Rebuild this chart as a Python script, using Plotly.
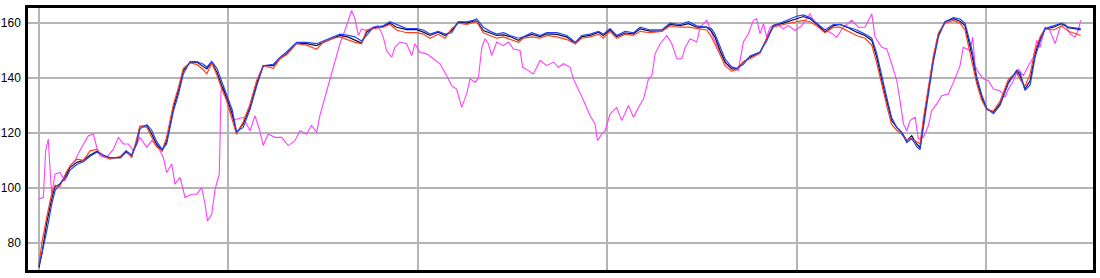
import plotly.graph_objects as go

# time (minutes) for the three heart-rate traces
t_hr = [0, 0.15, 0.4, 0.67, 0.85, 1.1, 1.46, 1.64, 2.0, 2.34, 2.7, 3.05, 3.4, 3.75, 4.3, 4.6, 4.9, 5.16, 5.33, 5.7,
        5.95, 6.2, 6.5, 6.74, 7.1, 7.36, 7.62, 7.98, 8.33, 8.68, 8.86, 9.12, 9.4, 9.65, 9.9, 10.2, 10.43, 10.78, 11.14, 11.49,
        11.84, 12.37, 12.72, 13.07, 13.6, 14.13, 14.66, 15.01, 15.54, 15.89, 16.33, 16.68, 17.03, 17.3, 17.65, 18.18, 18.53, 18.88, 19.41, 19.94,
        20.29, 20.64, 21.08, 21.44, 21.79, 22.14, 22.58, 22.93, 23.11, 23.46, 23.82, 24.17, 24.52, 24.87, 25.31, 25.58, 26.02, 26.46, 26.81, 27.34,
        27.87, 28.31, 28.66, 29.1, 29.54, 29.8, 30.15, 30.5, 30.95, 31.39, 31.74, 32.27, 32.88, 33.32, 33.85, 34.29, 34.73, 35.26, 35.5, 35.69,
        35.96, 36.22, 36.57, 36.84, 37.19, 37.54, 38.07, 38.42, 38.77, 39.3, 39.65, 40.0, 40.36, 40.71, 41.06, 41.5, 41.94, 42.29, 42.73, 43.17,
        43.61, 43.97, 44.23, 44.5, 44.76, 45.02, 45.29, 45.55, 45.82, 46.08, 46.34, 46.52, 46.7, 46.96, 47.22, 47.49, 47.84, 48.28, 48.63, 48.89,
        49.07, 49.25, 49.51, 49.77, 50.04, 50.39, 50.74, 51.18, 51.62, 51.8, 52.06, 52.33, 52.59, 52.86, 53.12, 53.56, 54.0, 54.35, 55.0]

black_hr = [71, 76, 87, 96, 100.5, 101.3, 105, 107.4, 109.3, 110, 112, 113.3, 111.7, 110.9, 111, 113, 111.7, 117, 122.3, 122.7,
            119.6, 116, 113.5, 117, 129.3, 135.4, 142.7, 145.8, 145.8, 144, 143.3, 145.8, 142, 137.2, 133, 127, 120, 123.3, 129.3, 137.9,
            144.5, 144.5, 147, 148.8, 152.7, 152.5, 151.8, 153, 154.6, 155.5, 154.9, 153.9, 152.7, 156.7, 158.3, 158.8, 160, 158.5, 157.6, 157.6,
            156.7, 155.5, 156.7, 155.5, 157.3, 160.4, 160, 160.7, 160.7, 157.3, 156.4, 155.5, 155.7, 155.1, 153.7, 154.9, 155.9, 155.1, 156.1, 155.9,
            154.9, 152.5, 155.1, 155.5, 156.7, 155.5, 157.6, 155.1, 156.4, 156.1, 157.9, 157.1, 157.1, 159.5, 159.1, 159.8, 158.5, 158.5, 157, 154.9,
            150, 145.8, 143.3, 143.3, 145.8, 147.6, 149.4, 154.3, 159.1, 160, 160.7, 161.6, 162.4, 161.6, 159.8, 156.7, 159.1, 159.5, 158.3, 156.7,
            155.5, 153.7, 147.6, 139, 131.8, 124.5, 122, 120.2, 117.2, 119, 116, 114.7, 124, 136, 147, 156, 160.5, 161.6, 160.7, 159.1,
            153.7, 148.8, 139, 133, 128.7, 127.5, 130.6, 138.5, 142.7, 140.9, 136, 139, 148.8, 154.3, 157.9, 158.5, 159.8, 158.3, 157.6]

red_hr = [72, 80, 89, 98, 101, 100.5, 106, 108, 110.5, 110, 113.5, 114, 111.5, 110.5, 111.5, 113.5, 111, 118.5, 122.5, 122,
          118.5, 115, 113.5, 118.5, 130.5, 136.5, 143.5, 145.5, 145, 143, 141.5, 145.5, 141, 136, 132, 125, 119.5, 124, 130.5, 139,
          144.5, 143.5, 147, 148.5, 152.5, 152, 150.5, 153, 154.5, 155, 154, 153, 152.5, 157.5, 158, 158.5, 159.5, 157.5, 156.5, 156.5,
          156, 154.5, 156, 154.5, 158, 160, 159.5, 160, 160.5, 156.5, 155.5, 154.5, 155, 154, 153, 154.5, 155, 154.5, 155.5, 155,
          154, 152.5, 154.5, 155, 156, 154.5, 157, 154.5, 156, 155.5, 157, 156.5, 157, 159, 158.5, 158.5, 158, 157.5, 155, 152.5,
          148.5, 144.5, 142.5, 143, 146, 147, 149, 154.5, 158.5, 159.5, 160, 160.5, 161, 160.5, 159, 156.5, 158.5, 158.5, 157, 155.5,
          154.5, 152, 145.5, 137, 130, 123, 121, 119.5, 117.5, 118, 117, 116, 125.5, 137.5, 148, 156.5, 160, 161, 160, 157.5,
          152, 147, 138, 132, 128.5, 128, 131.5, 139.5, 142, 139.5, 137, 141.5, 150, 155, 158, 157.5, 159, 157, 155.5]

blue_hr = [72, 76, 84, 94, 99, 101.5, 104, 106.5, 108.5, 109.5, 111.5, 113, 112, 111, 111, 113.5, 112, 116, 121.5, 123,
           121, 117, 114, 116, 128, 134, 141.5, 146, 146, 145, 144, 146, 143.5, 138.5, 134, 128.5, 120.5, 122, 128.5, 137,
           144.5, 145, 147.5, 149.5, 153, 153, 152.5, 153.5, 155, 156, 155.5, 155, 153.5, 155.5, 158.5, 159, 160.5, 159.5, 158, 158,
           157.5, 156, 157, 156, 156.5, 160.5, 160.5, 161, 161.5, 158.5, 157, 156, 156.5, 155.5, 154.5, 155, 156.5, 155.5, 156.5, 156.5,
           155.5, 153, 155.5, 156, 157, 156, 158, 155.5, 157, 156.5, 158.5, 157.5, 157.5, 160, 159.5, 160.5, 159, 158.5, 158, 156,
           151.5, 147, 144, 143.5, 145, 148, 149.5, 153.5, 159, 160.5, 161.5, 162.5, 163, 162, 160, 157.5, 159.5, 159.5, 158.5, 157.5,
           156, 154.5, 149, 140.5, 133, 125.5, 122, 120, 116.5, 118, 115, 114, 122, 134.5, 146, 155, 160.5, 162, 161.5, 160,
           155.5, 150.5, 140.5, 134, 129, 127, 130, 138, 142.5, 142, 135.5, 137.5, 147.5, 153.5, 158, 159, 160, 158.5, 158]

# time (minutes) and values for the magenta trace
t_mag = [0, 0.23, 0.35, 0.49, 0.58, 0.67, 0.85, 1.11, 1.37, 1.64, 1.9, 2.25, 2.61, 2.87, 3.05, 3.22, 3.57, 3.93, 4.19, 4.45,
         4.72, 4.98, 5.33, 5.69, 5.95, 6.3, 6.57, 6.74, 7.01, 7.18, 7.45, 7.71, 8.06, 8.33, 8.59, 8.77, 8.89, 9.12, 9.3, 9.52,
         9.61, 9.74, 10.0, 10.26, 10.43, 10.78, 11.14, 11.4, 11.66, 11.84, 12.1, 12.46, 12.81, 13.16, 13.51, 13.78, 14.13, 14.39, 14.66, 14.83,
         15.1, 15.36, 15.63, 15.89, 16.15, 16.33, 16.51, 16.68, 16.86, 17.03, 17.3, 17.65, 17.91, 18.18, 18.35, 18.62, 18.79, 19.06, 19.41, 19.68,
         19.85, 20.11, 20.47, 20.82, 21.17, 21.52, 21.79, 22.05, 22.32, 22.58, 22.76, 23.02, 23.2, 23.38, 23.55, 23.73, 23.9, 24.17, 24.52, 24.78,
         25.05, 25.4, 25.54, 25.84, 26.1, 26.46, 26.81, 27.16, 27.43, 27.69, 28.04, 28.22, 28.48, 28.75, 29.1, 29.36, 29.49, 29.71, 29.89, 30.15,
         30.5, 30.77, 31.12, 31.39, 31.65, 31.92, 32.18, 32.36, 32.53, 32.8, 33.15, 33.41, 33.68, 33.94, 34.12, 34.38, 34.73, 34.91, 35.26, 35.6,
         35.96, 36.31, 36.66, 36.92, 37.19, 37.45, 37.72, 37.89, 38.07, 38.25, 38.42, 38.6, 38.95, 39.3, 39.57, 39.92, 40.27, 40.71, 40.97, 41.41,
         41.77, 42.12, 42.47, 42.91, 43.26, 43.61, 43.97, 44.14, 44.5, 44.76, 45.02, 45.29, 45.46, 45.64, 45.82, 45.99, 46.26, 46.43, 46.7, 46.96,
         47.13, 47.4, 47.66, 48.01, 48.36, 48.63, 48.8, 48.98, 49.16, 49.3, 49.42, 49.6, 49.86, 50.13, 50.39, 50.74, 51.01, 51.18, 51.45, 51.71,
         51.97, 52.24, 52.5, 52.68, 52.85, 53.12, 53.38, 53.65, 53.91, 54.17, 54.44, 54.7, 54.88, 55.0]

magenta = [96, 96.5, 113.5, 117.8, 107.4, 97.7, 105, 105.6, 102.6, 108, 110, 114.8, 119, 119.6, 114.8, 111.7, 111, 114.1, 118.4, 116,
           116, 113.5, 118.4, 114.8, 117.2, 114.8, 111, 105.6, 108.7, 101.4, 103.8, 96.5, 97.7, 97.7, 100.1, 94, 88, 90.4, 99.6, 105,
           135.4, 136.6, 129.3, 125, 125, 125.7, 120.8, 126.3, 120.8, 115.4, 119.6, 118.4, 118.4, 115.4, 117.2, 120.8, 119.6, 122.7, 120.2, 126.3,
           133, 139.7, 145.8, 152.5, 157.3, 161, 164.6, 161.6, 155.5, 157.9, 157.3, 158.5, 159.1, 154.9, 150, 147.6, 151.2, 153.1, 152.5, 148.2,
           152.5, 149.4, 148.8, 147, 145.2, 140.9, 137.2, 136, 129.3, 134.2, 139.7, 138.5, 140, 151.2, 154.3, 152.5, 148.2, 153.1, 151.8, 153.1,
           150.6, 150, 143.9, 142.7, 141.5, 146.4, 144.5, 145.8, 143.9, 145.2, 143.9, 139.7, 136, 131.8, 126.3, 123.3, 117.2, 119.6, 120.8, 126.9,
           129.3, 124.5, 130, 125.7, 129.3, 132.4, 139.7, 140.9, 148.8, 152.5, 155.5, 152.5, 147, 147, 151.2, 154.3, 153.1, 158.5, 161, 154.9,
           149.4, 145.2, 143.9, 142.7, 153.1, 156.1, 161, 161.6, 156.1, 159.8, 154.9, 158.5, 159.8, 157.9, 159.1, 157.3, 159.1, 163.4, 159.8, 157.3,
           156.7, 154.9, 158.5, 161, 158.5, 158.5, 163.4, 154.9, 151.2, 150.6, 145.2, 139, 131.8, 123.3, 120.8, 124.5, 125.7, 117.8, 118.4, 122.7,
           128.1, 130.6, 133.6, 134.2, 139.7, 144.5, 151.2, 150.6, 150, 154.9, 144.5, 142.1, 139.7, 139, 136, 135.4, 133, 136, 139, 143.3,
           140.9, 144.5, 147.6, 153.7, 151.2, 158.5, 157.3, 152.5, 158.5, 159.8, 156.1, 154.9, 157.6, 161]

y_ticks = [80, 100, 120, 140, 160]

fig = go.Figure()
fig.add_trace(go.Scatter(x=t_mag, y=magenta, mode="lines", line=dict(color="#ff40ff", width=1.1)))
fig.add_trace(go.Scatter(x=t_hr, y=black_hr, mode="lines", line=dict(color="#101030", width=1.2)))
fig.add_trace(go.Scatter(x=t_hr, y=red_hr, mode="lines", line=dict(color="#ff4020", width=1.2)))
fig.add_trace(go.Scatter(x=t_hr, y=blue_hr, mode="lines", line=dict(color="#2040ff", width=1.2)))

fig.update_layout(
    width=1100, height=278,
    margin=dict(l=28, r=7, t=8, b=8),
    paper_bgcolor="white", plot_bgcolor="white",
    showlegend=False,
    font=dict(family="Liberation Sans, Arial, sans-serif", size=12, color="black"),
)
fig.update_xaxes(range=[-0.58, 55.65], tick0=0, dtick=10, showticklabels=False, ticks="",
                 showgrid=True, gridcolor="#b4b4b4", gridwidth=1.5, zeroline=False, automargin=False,
                 showline=True, linecolor="black", linewidth=2.5, mirror=True)
fig.update_yaxes(range=[70.1, 165.5], tickvals=y_ticks, ticks="", ticklabelstandoff=2, automargin=False,
                 showgrid=True, gridcolor="#b4b4b4", gridwidth=1.5, zeroline=False,
                 showline=True, linecolor="black", linewidth=2.5, mirror=True)

fig.write_html("out.html")
